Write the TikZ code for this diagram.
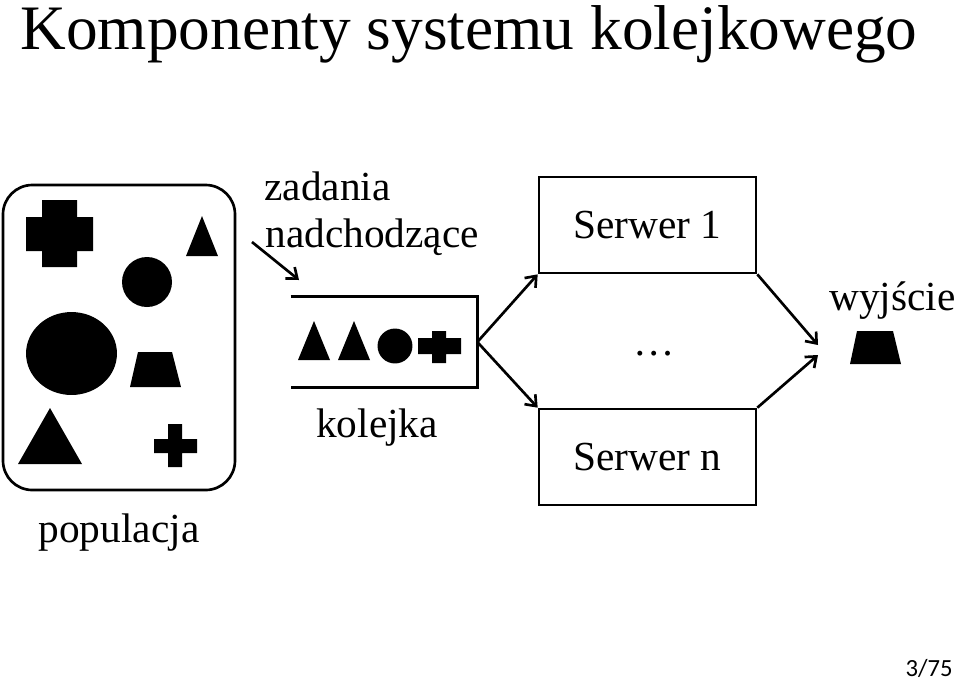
\documentclass[tikz,border=0pt]{standalone}
\usepackage{fontspec}
\setmainfont{Liberation Serif}
\newfontfamily\pagefont{Carlito}
\usetikzlibrary{arrows.meta, positioning}

\begin{document}
\begin{tikzpicture}[x=0.75pt, y=-0.75pt, line width=2pt,
    txt/.style={inner sep=0pt, font=\fontsize{31}{36}\selectfont},
    srv/.style={draw, rectangle, minimum width=162.75pt, minimum height=72pt, inner sep=0pt, font=\fontsize{31}{36}\selectfont},
    flow/.style={-{Straight Barb[length=7pt, width=11pt]}, line width=2pt}]
    \useasboundingbox (0,0) rectangle (959,683);

    % Title
    \node[anchor=base west, inner sep=0pt, font=\fontsize{47.5}{54}\selectfont] (title) at (19,49) {Komponenty systemu kolejkowego};

    % Population
    \node[draw, rectangle, rounded corners=22pt, minimum width=174pt, minimum height=228.75pt] (pop) at (119,337.5) {};
    \fill (42,200) rectangle (77,267) (26,217) rectangle (93,251);
    \fill (202,216) -- (218,256) -- (186,256) -- cycle;
    \fill (147,282) circle [radius=18.75pt];
    \fill (71.5,353.5) ellipse [x radius=34.1pt, y radius=31.1pt];
    \fill (138,352) -- (172,352) -- (181,387) -- (130,387) -- cycle;
    \fill (50,408) -- (82,464) -- (18,464) -- cycle;
    \fill (168,424) rectangle (182,467) (154,439) rectangle (197,453);
    \node[txt, anchor=base] (poptxt) at (119,542) {populacja};

    % Arrivals
    \node[txt, anchor=base west] (arrtxt1) at (263,200) {zadania};
    \node[txt, anchor=base west] (arrtxt2) at (264,247) {nadchodzące};
    \coordinate (arrfrom) at (252,242);
    \coordinate (arrto) at (299,280);
    \draw[flow] (arrfrom) -- (arrto);

    % Queue
    \node[minimum width=138pt, minimum height=66pt, inner sep=0pt] (queue) at (384,342) {};
    \draw (queue.north west) -- (queue.north east) -- (queue.south east) -- (queue.south west);
    \fill (314,321) -- (330,360) -- (298,360) -- cycle;
    \fill (354,321) -- (370,360) -- (338,360) -- cycle;
    \fill (395,346) circle [radius=13.1pt];
    \fill (432,331) rectangle (446,363) (418,338) rectangle (461,354);
    \node[txt, anchor=base] (queuetxt) at (377,437) {kolejka};

    % Servers
    \node[srv] (srv1) at (647.5,225) {Serwer 1};
    \node[srv] (srvn) at (647.5,457) {Serwer n};
    \node[txt, anchor=base] (dots) at (654,355) {…};
    \draw[flow] (queue.east) -- (srv1.south west);
    \draw[flow] (queue.east) -- (srvn.north west);

    % Output
    \coordinate (out1) at (818,345);
    \coordinate (outn) at (818,355);
    \draw[flow] (srv1.south east) -- (out1);
    \draw[flow] (srvn.north east) -- (outn);
    \node[txt, anchor=base east] (outtxt) at (957,310) {wyjście};
    \fill (857,331) -- (893,331) -- (901,364) -- (850,364) -- cycle;

    % Page number
    \node[anchor=base east, inner sep=0pt, font=\pagefont\fontsize{18.5}{22}\selectfont] (page) at (954,676) {3/75};
\end{tikzpicture}
\end{document}
